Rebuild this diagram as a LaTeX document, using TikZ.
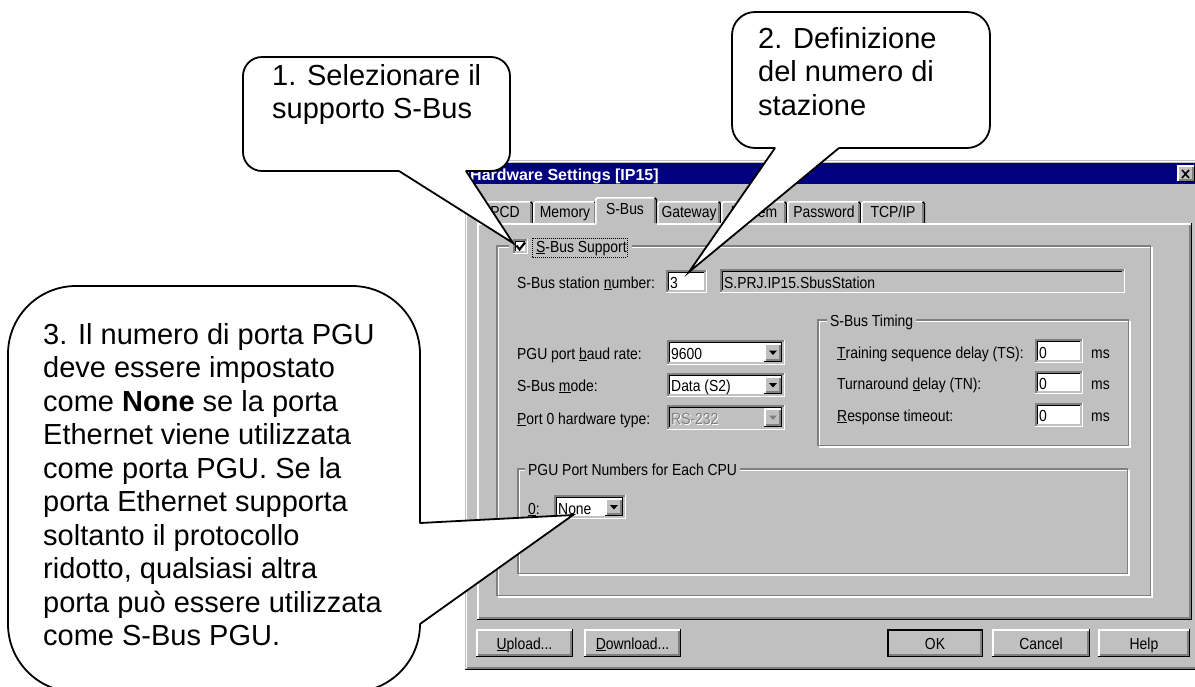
\documentclass[tikz,border=0pt]{standalone}
\usepackage{fontspec}
\setmainfont{Liberation Sans}
\newfontfamily\uiface[FakeStretch=0.87]{Liberation Sans}
\newcommand\uifont{\uiface\fontsize{16}{19}\selectfont}
\newcommand\notefont{\fontsize{29}{33.5}\selectfont}
\newcommand\titlefont{\fontsize{16}{19}\selectfont\bfseries}
\definecolor{uigray}{HTML}{C0C0C0}
\definecolor{uidark}{HTML}{808080}
\definecolor{uinavy}{HTML}{000080}

\tikzset{
  note/.style={draw=black, fill=white, line width=1.8pt},
  notetail/.style={draw=black, line width=1.8pt, line cap=round, line join=miter},
  notetext/.style={font=\notefont, align=left, anchor=north west, inner sep=0pt},
  ui/.style={font=\uifont, anchor=base west, inner sep=0pt},
  uic/.style={font=\uifont, anchor=base, inner sep=0pt},
  grouplabel/.style={font=\uifont, anchor=base west, fill=uigray, inner xsep=3pt, inner ysep=1pt},
  edge3d/.style={line width=1.5pt},
}

% raised 3D box: x1 y1 x2 y2 (y grows downwards)
\newcommand\uiraised[4]{%
  \fill[uigray] (#1,#2) rectangle (#3,#4);
  \draw[edge3d,white] (#1+0.75,#4-1.5) -- (#1+0.75,#2+0.75) -- (#3-1.5,#2+0.75);
  \draw[edge3d,black] (#1,#4-0.75) -- (#3-0.75,#4-0.75) -- (#3-0.75,#2);
  \draw[edge3d,uidark] (#1+1.5,#4-2.25) -- (#3-2.25,#4-2.25) -- (#3-2.25,#2+1.5);
}
% sunken field: fill x1 y1 x2 y2
\newcommand\uisunken[5]{%
  \fill[#1] (#2,#3) rectangle (#4,#5);
  \draw[edge3d,uidark] (#2+0.75,#5) -- (#2+0.75,#3+0.75) -- (#4,#3+0.75);
  \draw[edge3d,black] (#2+2.25,#5-1.5) -- (#2+2.25,#3+2.25) -- (#4-1.5,#3+2.25);
  \draw[edge3d,white] (#2,#5-0.75) -- (#4-0.75,#5-0.75) -- (#4-0.75,#3);
  \draw[edge3d,uigray] (#2+1.5,#5-2.25) -- (#4-2.25,#5-2.25) -- (#4-2.25,#3+1.5);
}
% etched group frame: x1 y1 x2 y2
\newcommand\uietched[4]{%
  \draw[edge3d,white] (#1+1.5,#2+1.5) rectangle (#3,#4);
  \draw[edge3d,uidark] (#1,#2) rectangle (#3-1.5,#4-1.5);
}
% drop-down list: field fill, arrow colour, x1 y1 x2 y2
\newcommand\uicombo[6]{%
  \uisunken{#1}{#3}{#4}{#5}{#6}
  \uiraised{#5-21}{#4+3}{#5-3}{#6-3}
  \fill[#2] ({#5-16},{(#4+#6)/2-2}) -- ({#5-8},{(#4+#6)/2-2}) -- ({#5-12},{(#4+#6)/2+2.5}) -- cycle;
}
% unselected tab: x1 x2 top
\newcommand\uitab[3]{%
  \fill[uigray] (#1,#3) rectangle (#2,223);
  \draw[edge3d,white] (#1+0.75,223) -- (#1+0.75,#3+2.5) -- (#1+2.5,#3+0.75) -- (#2-2.5,#3+0.75);
  \draw[edge3d,black] (#2-2.5,#3+0.75) -- (#2-0.75,#3+2.5) -- (#2-0.75,223);
  \draw[edge3d,uidark] (#2-2.25,#3+2.5) -- (#2-2.25,223);
}

\begin{document}
\begin{tikzpicture}[x=1pt,y=-1pt]
\clip (0,0) rectangle (1195,686);
\fill[white] (0,0) rectangle (1195,686);

% ---------- dialog window ----------
\fill[uigray] (465,160) rectangle (1200,670);
\draw[edge3d,white] (466.5,668) -- (466.5,161.5) -- (1200,161.5);
\draw[edge3d,black] (465,669.25) -- (1200,669.25);
\draw[edge3d,uidark] (466.5,667.75) -- (1200,667.75);

% title bar
\fill[uinavy] (469,163) rectangle (1200,184);
\node[font=\titlefont, text=white, anchor=base west, inner sep=0pt] (title) at (470,180) {Hardware Settings [IP15]};
\uiraised{1177}{165}{1195}{182}
\draw[black, line width=1.6pt] (1182,170) -- (1189,178) (1189,170) -- (1182,178);

% tabs
\uitab{477}{533}{201}
\uitab{533}{597}{201}
\uitab{657}{721}{201}
\uitab{721}{787}{201}
\uitab{787}{861}{201}
\uitab{861}{925}{201}

% tab page
\fill[uigray] (477,223) rectangle (1192,620);
\draw[edge3d,white] (477.75,619) -- (477.75,223.75) -- (1191,223.75);
\draw[edge3d,black] (477,619.25) -- (1191.25,619.25) -- (1191.25,223);
\draw[edge3d,uidark] (478.5,617.75) -- (1189.75,617.75) -- (1189.75,224.5);

% selected tab
\fill[uigray] (595,197) rectangle (657,226);
\draw[edge3d,white] (595.75,224.5) -- (595.75,199.5) -- (597.5,197.75) -- (654.5,197.75);
\draw[edge3d,black] (654.5,197.75) -- (656.25,199.5) -- (656.25,223);
\draw[edge3d,uidark] (654.75,199.5) -- (654.75,223);

\node[uic] (tabPCD) at (505,217.5) {PCD};
\node[uic] (tabMem) at (565,217.5) {Memory};
\node[uic] (tabSBus) at (625,214) {S-Bus};
\node[uic] (tabGw) at (689,217.5) {Gateway};
\node[uic] (tabModem) at (754,217.5) {Modem};
\node[uic] (tabPwd) at (824,217.5) {Password};
\node[uic] (tabTCP) at (893,217.5) {TCP/IP};

% group: S-Bus Support
\uietched{497}{246}{1152}{597}
\fill[uigray] (509,243) rectangle (632,251);
\uisunken{white}{513}{239}{528}{254}
\draw[black, line width=2.2pt, line join=miter] (516.5,245.5) -- (519.5,249.5) -- (525,242.5);
\node[ui] (sbusSupport) at (536,252) {\underline{S}-Bus Support};
\draw[black, line width=0.8pt, dash pattern=on 1pt off 1pt] (532,238) rectangle (627,257);

% station number
\node[ui] (lblStation) at (517,288) {S-Bus station \underline{n}umber:};
\uisunken{white}{666}{270}{707}{293}
\node[ui] (valStation) at (670,288) {3};
\uisunken{uigray}{720}{269}{1125}{293}
\node[ui] (valName) at (724,288) {S.PRJ.IP15.SbusStation};

% left column settings
\node[ui] (lblBaud) at (517,359) {PGU port \underline{b}aud rate:};
\uicombo{white}{black}{667}{340}{785}{365}
\node[ui] (valBaud) at (671,359) {9600};
\node[ui] (lblMode) at (517,391) {S-Bus \underline{m}ode:};
\uicombo{white}{black}{667}{373}{785}{397}
\node[ui] (valMode) at (671,391) {Data (S2)};
\node[ui] (lblPort) at (517,424) {\underline{P}ort 0 hardware type:};
\uicombo{uigray}{uidark}{667}{405}{785}{430}
\node[ui, text=white] (valPortShade) at (672,425) {RS-232};
\node[ui, text=uidark] (valPort) at (671,424) {RS-232};

% group: S-Bus Timing
\uietched{818}{320}{1130}{447}
\node[grouplabel] (lblTiming) at (827,326) {S-Bus Timing};
\node[ui] (lblTS) at (837,358) {\underline{T}raining sequence delay (TS):};
\uisunken{white}{1035}{339}{1083}{363}
\node[ui] (valTS) at (1039,358) {0};
\node[ui] (msTS) at (1091,358) {ms};
\node[ui] (lblTN) at (837,389) {Turnaround \underline{d}elay (TN):};
\uisunken{white}{1035}{371}{1083}{394}
\node[ui] (valTN) at (1039,389) {0};
\node[ui] (msTN) at (1091,389) {ms};
\node[ui] (lblResp) at (837,421) {\underline{R}esponse timeout:};
\uisunken{white}{1035}{403}{1083}{427}
\node[ui] (valResp) at (1039,421) {0};
\node[ui] (msResp) at (1091,421) {ms};

% group: PGU port numbers
\uietched{518}{469}{1129}{575}
\node[grouplabel] (lblPGU) at (525,475) {PGU Port Numbers for Each CPU};
\node[ui] (lblCPU0) at (528,514) {\underline{0}:};
\uicombo{white}{black}{554}{495}{626}{519}
\node[ui] (valCPU0) at (558,514) {None};

% buttons
\uiraised{476}{629}{573}{657}
\node[uic] (btnUpload) at (524.5,649) {\underline{U}pload...};
\uiraised{584}{629}{681}{657}
\node[uic] (btnDownload) at (632.5,649) {\underline{D}ownload...};
\uiraised{887}{629}{983}{657}
\draw[black, line width=1.5pt] (887.75,629.75) rectangle (982.25,656.25);
\node[uic] (btnOK) at (935,649) {OK};
\uiraised{992}{629}{1090}{657}
\node[uic] (btnCancel) at (1041,649) {Cancel};
\uiraised{1098}{629}{1190}{657}
\node[uic] (btnHelp) at (1144,649) {Help};

% ---------- callouts ----------
\coordinate (tip1) at (513,243);
\coordinate (tip2) at (689,272);
\coordinate (tip3) at (573,515);

% 1: select S-Bus support
\draw[note, rounded corners=19pt] (243,57) rectangle (510,171);
\fill[white] (399,168) -- (466,168) -- (466,171) -- (tip1) -- (399,171) -- cycle;
\draw[notetail] (399,171) -- (tip1) -- (466,171);
\node[notetext] (note1) at (272,64) {1. Selezionare il\\supporto S-Bus};

% 2: station number
\draw[note, rounded corners=23pt] (732,12) rectangle (990,148);
\fill[white] (775,145) -- (839,145) -- (839,148) -- (tip2) -- (775,148) -- cycle;
\draw[notetail] (775,148) -- (tip2) -- (839,148);
\node[notetext] (note2) at (758,27) {2. Definizione\\del numero di\\stazione};

% 3: PGU port number
\draw[note, rounded corners=68pt] (8,286) rectangle (420,692);
\fill[white] (417,523) -- (420,523) -- (tip3) -- (420,624) -- (417,624) -- cycle;
\draw[notetail] (420,523) -- (tip3) -- (420,624);
\node[notetext] (note3) at (43,323) {3. Il numero di porta PGU\\deve essere impostato\\come \textbf{None} se la porta\\Ethernet viene utilizzata\\come porta PGU. Se la\\porta Ethernet supporta\\soltanto il protocollo\\ridotto, qualsiasi altra\\porta può essere utilizzata\\come S-Bus PGU.};
\end{tikzpicture}
\end{document}
